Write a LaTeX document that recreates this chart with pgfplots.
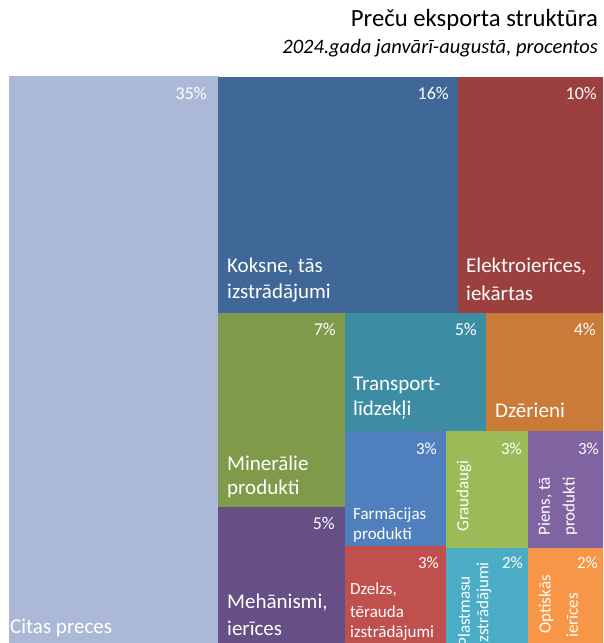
\documentclass[border=0pt]{standalone}
\usepackage{pgfplots}
\pgfplotsset{compat=1.18}
\usepackage{fontspec}
\setmainfont{Carlito}
\definecolor{cCitas}{HTML}{ABB9D7}
\definecolor{cKoksne}{HTML}{3F6899}
\definecolor{cElektro}{HTML}{9C3F3F}
\definecolor{cMiner}{HTML}{7F9A48}
\definecolor{cTransp}{HTML}{3C8CA3}
\definecolor{cDzer}{HTML}{CB7B38}
\definecolor{cFarm}{HTML}{4F7FBD}
\definecolor{cGraud}{HTML}{9BBB59}
\definecolor{cPiens}{HTML}{8064A2}
\definecolor{cMeh}{HTML}{664F84}
\definecolor{cDzelzs}{HTML}{C0504D}
\definecolor{cPlast}{HTML}{4BACC6}
\definecolor{cOpt}{HTML}{F79646}
\newcommand{\pct}{\fontsize{18}{20}\selectfont}
\newcommand{\pcs}{\fontsize{17}{19}\selectfont}
\newcommand{\lbl}{\fontsize{21}{24}\selectfont}
\newcommand{\lbs}{\fontsize{17}{20}\selectfont}
\tikzset{lab/.style={text=white, inner sep=0pt}}
\begin{document}
\begin{tikzpicture}
\begin{axis}[
  scale only axis, width=603pt, height=643pt,
  xmin=0, xmax=603, ymin=0, ymax=643, y dir=reverse,
  hide axis, clip=true,
]
% rectangles (x0,y0)-(x1,y1)
\addplot[fill=cCitas, draw=cCitas, line width=0.2pt] coordinates {(9,76) (218,76) (218,672) (9,672)};
\addplot[fill=cKoksne, draw=cKoksne, line width=0.2pt] coordinates {(218,77) (458,77) (458,313) (218,313)};
\addplot[fill=cElektro, draw=cElektro, line width=0.2pt] coordinates {(458,77) (603,77) (603,313) (458,313)};
\addplot[fill=cMiner, draw=cMiner, line width=0.2pt] coordinates {(218,313) (345,313) (345,507) (218,507)};
\addplot[fill=cMeh, draw=cMeh, line width=0.2pt] coordinates {(218,507) (345,507) (345,672) (218,672)};
\addplot[fill=cTransp, draw=cTransp, line width=0.2pt] coordinates {(345,313) (486,313) (486,431) (345,431)};
\addplot[fill=cDzer, draw=cDzer, line width=0.2pt] coordinates {(486,313) (603,313) (603,431) (486,431)};
\addplot[fill=cFarm, draw=cFarm, line width=0.2pt] coordinates {(345,431) (446,431) (446,546) (345,546)};
\addplot[fill=cDzelzs, draw=cDzelzs, line width=0.2pt] coordinates {(345,546) (446,546) (446,672) (345,672)};
\addplot[fill=cGraud, draw=cGraud, line width=0.2pt] coordinates {(446,431) (528,431) (528,548) (446,548)};
\addplot[fill=cPlast, draw=cPlast, line width=0.2pt] coordinates {(446,548) (528,548) (528,672) (446,672)};
\addplot[fill=cPiens, draw=cPiens, line width=0.2pt] coordinates {(528,431) (603,431) (603,548) (528,548)};
\addplot[fill=cOpt, draw=cOpt, line width=0.2pt] coordinates {(528,548) (603,548) (603,672) (528,672)};
% percentages
\node[lab, anchor=east, font=\pct] at (axis cs:207,93) {35\%};
\node[lab, anchor=east, font=\pct] at (axis cs:449,93) {16\%};
\node[lab, anchor=east, font=\pct] at (axis cs:597,93) {10\%};
\node[lab, anchor=east, font=\pct] at (axis cs:336,329) {7\%};
\node[lab, anchor=east, font=\pct] at (axis cs:477,329) {5\%};
\node[lab, anchor=east, font=\pct] at (axis cs:596,329) {4\%};
\node[lab, anchor=east, font=\pcs] at (axis cs:437,449) {3\%};
\node[lab, anchor=east, font=\pcs] at (axis cs:522,449) {3\%};
\node[lab, anchor=east, font=\pcs] at (axis cs:599,449) {3\%};
\node[lab, anchor=east, font=\pct] at (axis cs:335,523) {5\%};
\node[lab, anchor=east, font=\pcs] at (axis cs:439,563) {3\%};
\node[lab, anchor=east, font=\pcs] at (axis cs:523,563) {2\%};
\node[lab, anchor=east, font=\pcs] at (axis cs:598,563) {2\%};
% labels
\node[lab, anchor=west, font=\lbl] at (axis cs:10,628) {Citas preces};
\node[lab, anchor=west, font=\lbl] at (axis cs:227,267) {Koksne, tās};
\node[lab, anchor=west, font=\lbl] at (axis cs:227,293) {izstrādājumi};
\node[lab, anchor=west, font=\lbl] at (axis cs:466,267) {Elektroierīces,};
\node[lab, anchor=west, font=\lbl] at (axis cs:466,293) {iekārtas};
\node[lab, anchor=west, font=\lbl] at (axis cs:227,463) {Minerālie};
\node[lab, anchor=west, font=\lbl] at (axis cs:227,489) {produkti};
\node[lab, anchor=west, font=\lbl] at (axis cs:353,385) {Transport-};
\node[lab, anchor=west, font=\lbl] at (axis cs:353,410) {līdzekļi};
\node[lab, anchor=west, font=\lbl] at (axis cs:495,410) {Dzērieni};
\node[lab, anchor=west, font=\lbl] at (axis cs:227,603) {Mehānismi,};
\node[lab, anchor=west, font=\lbl] at (axis cs:227,628) {ierīces};
\node[lab, anchor=west, font=\lbs] at (axis cs:353,515) {Farmācijas};
\node[lab, anchor=west, font=\lbs] at (axis cs:353,535) {produkti};
\node[lab, anchor=west, font=\lbs] at (axis cs:350,590) {Dzelzs,};
\node[lab, anchor=west, font=\lbs] at (axis cs:350,612) {tērauda};
\node[lab, anchor=west, font=\lbs] at (axis cs:350,633) {izstrādājumi};
% rotated labels (east anchor = top end)
\node[lab, anchor=east, rotate=90, font=\lbs] at (axis cs:464,460) {Graudaugi};
\node[lab, anchor=east, rotate=90, font=\lbs] at (axis cs:545,477) {Piens, tā};
\node[lab, anchor=east, rotate=90, font=\lbs] at (axis cs:570,477) {produkti};
\node[lab, anchor=east, rotate=90, font=\lbs] at (axis cs:464,576) {Plastmasu};
\node[lab, anchor=east, rotate=90, font=\lbs] at (axis cs:484,562) {izstrādājumi};
\node[lab, anchor=east, rotate=90, font=\lbs] at (axis cs:546,575) {Optiskās};
\node[lab, anchor=east, rotate=90, font=\lbs] at (axis cs:572,593) {ierīces};
% titles
\node[anchor=east, inner sep=0pt, text=black, font=\fontsize{24.7}{28}\selectfont] at (axis cs:598,20) {Preču eksporta struktūra};
\node[anchor=east, inner sep=0pt, text=black, font=\fontsize{20.5}{24}\selectfont\itshape] at (axis cs:598,48) {2024.gada janvārī-augustā, procentos};
\end{axis}
\pgfresetboundingbox
\path[use as bounding box] (current axis.south west) rectangle (current axis.north east);
\end{tikzpicture}
\end{document}
